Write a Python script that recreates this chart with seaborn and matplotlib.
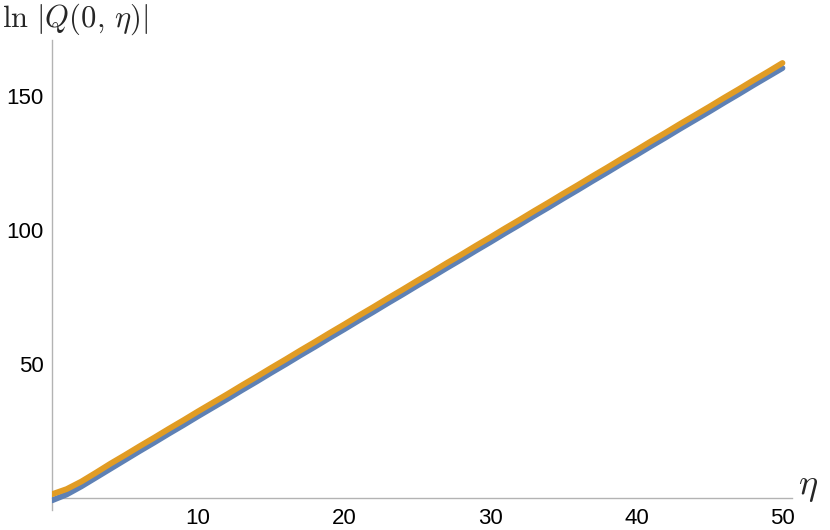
import numpy as np
import pandas as pd
import matplotlib
matplotlib.use("Agg")
import matplotlib.pyplot as plt
import seaborn as sns
from matplotlib.ticker import MultipleLocator

# values (eta = 0..50)
eta = list(range(0, 51))
q_blue = [-0.7, 1.5, 4.5, 7.8, 11.1, 14.4, 17.7, 20.9, 24.2, 27.4,
          30.7, 33.9, 37.1, 40.4, 43.6, 46.9, 50.1, 53.4, 56.6, 59.9,
          63.1, 66.4, 69.6, 72.9, 76.1, 79.4, 82.6, 85.9, 89.1, 92.4,
          95.6, 98.9, 102.1, 105.4, 108.6, 111.9, 115.1, 118.4, 121.6, 124.9,
          128.1, 131.4, 134.6, 137.9, 141.1, 144.3, 147.6, 150.8, 154.1, 157.3,
          160.5]
q_orange = [1.6, 3.5, 6.3, 9.6, 13.0, 16.2, 19.5, 22.7, 26.0, 29.2,
            32.5, 35.7, 38.9, 42.2, 45.4, 48.7, 51.9, 55.2, 58.4, 61.7,
            64.9, 68.2, 71.4, 74.7, 77.9, 81.2, 84.4, 87.7, 90.9, 94.2,
            97.4, 100.7, 103.9, 107.2, 110.4, 113.7, 116.9, 120.2, 123.4, 126.7,
            129.9, 133.2, 136.4, 139.7, 142.9, 146.1, 149.4, 152.6, 155.9, 159.1,
            162.4]

df = pd.DataFrame({"eta": eta, "blue": q_blue, "orange": q_orange})

sns.set_style("white")
plt.rcParams["font.family"] = ["Liberation Sans", "DejaVu Sans"]
plt.rcParams["mathtext.fontset"] = "cm"

fig = plt.figure(figsize=(8.3, 5.3), dpi=100)
ax = fig.add_axes([0.0627, 0.0377, 0.892, 0.887])

sns.lineplot(data=df, x="eta", y="blue", ax=ax, color="#5E81B5", lw=4.2,
             solid_capstyle="round")
sns.lineplot(data=df, x="eta", y="orange", ax=ax, color="#E19C24", lw=4.2,
             solid_capstyle="round")

ax.set_xlim(0, 50.68)
ax.set_ylim(-4.3, 171)

for s in ["top", "right"]:
    ax.spines[s].set_visible(False)
ax.spines["bottom"].set_position(("data", 0))
ax.spines["left"].set_position(("data", 0))
for s in ["bottom", "left"]:
    ax.spines[s].set_color("#b3b3b3")
    ax.spines[s].set_linewidth(1.0)
    ax.spines[s].set_zorder(0.5)

ax.set_xticks([10, 20, 30, 40, 50])
ax.set_yticks([50, 100, 150])
ax.xaxis.set_minor_locator(MultipleLocator(2))
ax.yaxis.set_minor_locator(MultipleLocator(10))
ax.tick_params(which="both", direction="in", color="#b3b3b3", labelsize=16,
               labelcolor="black")
ax.tick_params(which="major", length=6, width=1)
ax.tick_params(which="minor", length=3.5, width=0.8)
ax.tick_params(axis="x", which="major", pad=7)
ax.tick_params(axis="y", which="major", pad=6)

ax.set_xlabel("")
ax.set_ylabel("")
fig.text(0.002, 0.998, r"$\ln\,|Q(0,\,\eta)|$", fontsize=22, ha="left", va="top")
fig.text(0.962, 0.083, r"$\eta$", fontsize=26, ha="left", va="center")

fig.savefig("out.png", dpi=100)
